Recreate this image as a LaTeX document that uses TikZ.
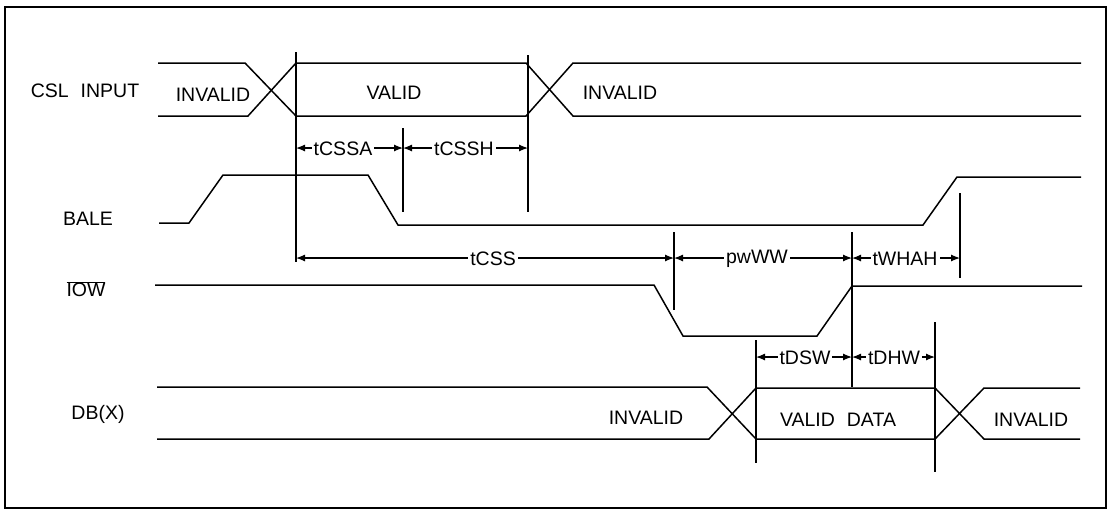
\documentclass[tikz,border=0pt]{standalone}
\usepackage{fontspec}
\setmainfont{Liberation Sans}
\usetikzlibrary{arrows.meta}
\begin{document}
\begin{tikzpicture}[x=1pt,y=-1pt,
  sig/.style={line width=1.5pt, line join=miter},
  vline/.style={line width=1.3pt},
  dim/.style={line width=1.2pt, {Latex[length=9pt,width=7pt]}-{Latex[length=9pt,width=7pt]}},
  lab/.style={font=\fontsize{19.5}{22}\selectfont, inner sep=1pt},
  dlab/.style={lab, fill=white, inner sep=2pt},
]
\useasboundingbox (0,0) rectangle (1110,512);
\draw[line width=1.2pt] (5,7) rectangle (1106,508);

% signal names
\node[lab] (lcsl) at (85,91) {CSL\hspace{12pt}INPUT};
\node[lab] (lbale) at (88,219) {BALE};
\node[lab] (liow) at (86,289) {$\overline{\mbox{IOW}}$};
\node[lab] (ldb) at (98,414) {DB(X)};

% CSL INPUT bus
\draw[sig] (158,63) -- (245,63) -- (296,116) -- (526,116) -- (573,63) -- (1081,63);
\draw[sig] (158,116) -- (248,116) -- (296,63) -- (526,63) -- (573,116) -- (1081,116);
\node[lab] (csl1) at (213,95) {INVALID};
\node[lab] (csl2) at (394,93) {VALID};
\node[lab] (csl3) at (620,93) {INVALID};

% BALE
\draw[sig] (159,223) -- (189,223) -- (223,175) -- (368,175) -- (398,225) -- (923,225) -- (957,177) -- (1081,177);

% IOW
\draw[sig] (155,285) -- (654,285) -- (683,336) -- (817,336) -- (852,286) -- (1082,286);

% DB(X) bus
\draw[sig] (157,387) -- (707,387) -- (756,439) -- (935,439) -- (984,388) -- (1080,388);
\draw[sig] (157,439) -- (709,439) -- (756,388) -- (935,388) -- (984,439) -- (1080,439);
\node[lab] (db1) at (646,418) {INVALID};
\node[lab] (db2) at (838,420) {VALID\hspace{12pt}DATA};
\node[lab] (db3) at (1031,420) {INVALID};

% reference verticals
\coordinate (v1t) at (296,52);  \coordinate (v1b) at (296,262);
\coordinate (v2t) at (528,55);  \coordinate (v2b) at (528,212);
\coordinate (v3t) at (403,128); \coordinate (v3b) at (403,212);
\coordinate (v4t) at (674,232); \coordinate (v4b) at (674,310);
\coordinate (v5t) at (852,232); \coordinate (v5b) at (852,387);
\coordinate (v6t) at (960,193); \coordinate (v6b) at (960,278);
\coordinate (v7t) at (756,340); \coordinate (v7b) at (756,463);
\coordinate (v8t) at (935,322); \coordinate (v8b) at (935,472);
\foreach \v in {1,...,8} \draw[vline] (v\v t) -- (v\v b);

% dimension ends
\coordinate (a1) at (296,148); \coordinate (a2) at (403,148); \coordinate (a3) at (528,148);
\coordinate (b1) at (296,258); \coordinate (b2) at (674,258); \coordinate (b3) at (852,258); \coordinate (b4) at (960,258);
\coordinate (c1) at (756,357); \coordinate (c2) at (852,357); \coordinate (c3) at (935,357);

\draw[dim] (a1) -- (a2);
\draw[dim] (a2) -- (a3);
\draw[dim] (b1) -- (b2);
\draw[dim] (b2) -- (b3);
\draw[dim] (b3) -- (b4);
\draw[dim] (c1) -- (c2);
\draw[dim] (c2) -- (c3);

\node[dlab] (tcssa) at (343,149) {tCSSA};
\node[dlab] (tcssh) at (464,149) {tCSSH};
\node[dlab] (tcss) at (493,259) {tCSS};
\node[dlab] (pwww) at (757,259) {pwWW};
\node[dlab] (twhah) at (905,259) {tWHAH};
\node[dlab] (tdsw) at (805,358) {tDSW};
\node[dlab] (tdhw) at (894,358) {tDHW};
\end{tikzpicture}
\end{document}
